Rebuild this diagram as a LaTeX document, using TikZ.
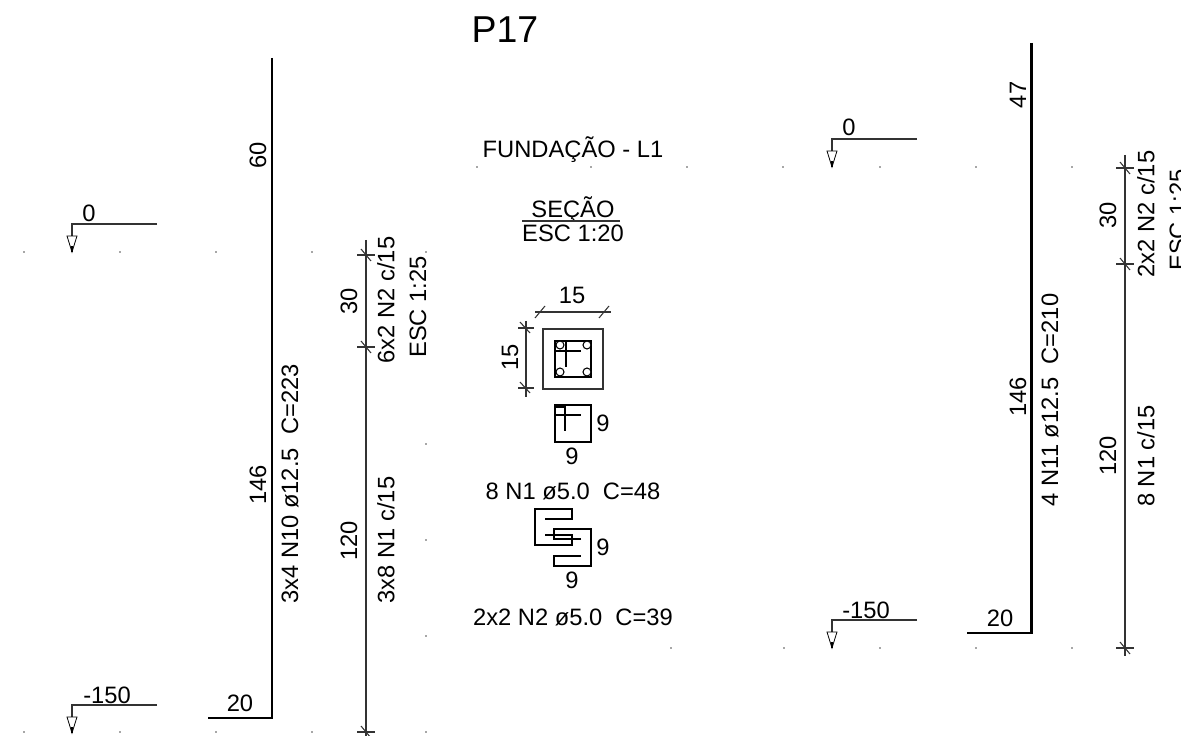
\documentclass[tikz,border=0pt]{standalone}
\usepackage{fontspec}
\setmainfont{Liberation Sans}
\tikzset{
  bar/.style={line width=1.7pt, line cap=butt, line join=miter},
  thinline/.style={line width=0.6pt, black!80},
  txt/.style={inner sep=0, font=\fontsize{13.5}{16}\selectfont},
  vtxt/.style={txt, rotate=90},
  speck/.style={circle, fill=black!70, inner sep=0, minimum size=1pt}
}
\newcommand{\levelmark}[3]{%
  \coordinate (#3a) at (#1,#2);
  \coordinate (#3b) at (#1+85,#2);
  \coordinate (#3c) at (#1,#2+28);
  \draw[thinline] (#3b) -- (#3a) -- (#1,#2+12);
  \draw[line width=0.45pt] (#1-5,#2+12) -- (#1+5,#2+12) -- (#3c) -- cycle;
  \draw[line width=0.9pt] (#3c) -- (#1,#2+22);
}
\newcommand{\dimtick}[3]{%
  \coordinate (#3) at (#1,#2);
  \draw[thinline] (#1-9,#2) -- (#1+9,#2);
  \draw[thinline] (#1-5,#2-6) -- (#1+5,#2+6);
}
\begin{document}
\begin{tikzpicture}[x=0.02cm, y=-0.02cm]
  \useasboundingbox (0,0) rectangle (1181,736);
  % specks
  \foreach \px/\py in {24/252, 120/252, 216/252, 312/252, 426/252, 426/444, 426/540, 426/636,
    24/732, 120/732, 216/732, 312/732, 426/732,
    477/167, 591/167, 687/167, 783/167, 880/167, 976/167, 1072/167,
    671/648, 784/648, 880/648, 976/648, 1072/648}
    \node[speck] at (\px,\py) {};
  % left bar
  \draw[bar] (272,58) -- (272,718) -- (208,718);
  \node[vtxt] (L60) at (258,155) {60};
  \node[vtxt] (L146) at (258,485) {146};
  \node[vtxt] (Lbar) at (290,484) {3x4 N10 ø12.5\ \ C=223};
  \node[txt] (L20) at (240,703) {20};
  % left dimension
  \draw[thinline] (366,240) -- (366,736);
  \dimtick{366}{255}{Lt1}
  \dimtick{366}{347}{Lt2}
  \dimtick{366}{732}{Lt3}
  \node[vtxt] (L30) at (349,301) {30};
  \node[vtxt] (L120) at (349,541) {120};
  \node[vtxt] (LN2) at (386,300) {6x2 N2 c/15};
  \node[vtxt] (LN1) at (386,540) {3x8 N1 c/15};
  \node[vtxt] (Lesc) at (418,307) {ESC 1:25};
  % levels
  \levelmark{72}{224}{La}
  \node[txt] (La0) at (89,213) {0};
  \levelmark{72}{705}{Lb}
  \node[txt] (Lb0) at (107,695) {-150};
  \levelmark{832}{139}{Ra}
  \node[txt] (Ra0) at (849,127) {0};
  \levelmark{832}{620}{Rb}
  \node[txt] (Rb0) at (866,610) {-150};
  % titles
  \node[inner sep=0, font=\fontsize{21.3}{24}\selectfont] (title) at (505,30) {P17};
  \node[txt] (fund) at (573,150) {FUNDAÇÃO - L1};
  \node[txt] (secao) at (573,210) {SEÇÃO};
  \draw[thinline] (522,221) -- (620,221);
  \node[txt] (esc) at (573,233) {ESC 1:20};
  % section
  \draw[thinline] (543,329) rectangle (603,389);
  \draw[bar] (555,341) rectangle (591,377);
  \draw[line width=0.9pt] (566,341) -- (566,367);
  \draw[line width=0.9pt] (555,351) -- (581,351);
  \foreach \px/\py in {560/345, 587/345, 560/372, 587/372}
    \draw[line width=0.6pt, fill=white] (\px,\py) circle (4);
  \draw[thinline] (535,312) -- (611,312);
  \draw[thinline] (535,318) -- (545,306);
  \draw[thinline] (599,318) -- (609,306);
  \node[txt] (w15) at (572,295) {15};
  \draw[thinline] (526,321) -- (526,397);
  \draw[thinline] (518,328) -- (534,328);
  \draw[thinline] (518,388) -- (534,388);
  \draw[thinline] (520,322) -- (530,333);
  \draw[thinline] (520,382) -- (530,393);
  \node[vtxt] (h15) at (510,357) {15};
  % stirrup N1
  \draw[bar] (555,405) rectangle (591,442);
  \draw[line width=0.9pt] (565,405) -- (565,431);
  \draw[line width=0.9pt] (555,415) -- (581,415);
  \fill (555,405) rectangle (565,408);
  \node[txt] (n1h) at (603,423) {9};
  \node[txt] (n1w) at (572,456) {9};
  \node[txt] (n1) at (573,491) {8 N1 ø5.0\ \ C=48};
  % stirrup N2
  \draw[line width=1.3pt] (545,519) -- (572,519) -- (572,509) -- (535,509) -- (535,545)
    -- (572,545) -- (572,535) -- (545,535);
  \draw[line width=1.3pt] (581,539) -- (554,539) -- (554,529) -- (591,529) -- (591,566)
    -- (554,566) -- (554,556) -- (581,556);
  \node[txt] (n2h) at (603,547) {9};
  \node[txt] (n2w) at (572,580) {9};
  \node[txt] (n2) at (573,617) {2x2 N2 ø5.0\ \ C=39};
  % right bar
  \draw[bar] (1031,43) -- (1031,633) -- (967,633);
  \node[vtxt] (R47) at (1018,95) {47};
  \node[vtxt] (R146) at (1018,397) {146};
  \node[vtxt] (Rbar) at (1050,400) {4 N11 ø12.5\ \ C=210};
  \node[txt] (R20) at (1000,618) {20};
  % right dimension
  \draw[thinline] (1125,155) -- (1125,656);
  \dimtick{1125}{168}{Rt1}
  \dimtick{1125}{264}{Rt2}
  \dimtick{1125}{648}{Rt3}
  \node[vtxt] (R30) at (1108,215) {30};
  \node[vtxt] (R120) at (1108,456) {120};
  \node[vtxt] (RN2) at (1146,214) {2x2 N2 c/15};
  \node[vtxt] (RN1) at (1146,456) {8 N1 c/15};
  \node[vtxt] (Resc) at (1178,220) {ESC 1:25};
\end{tikzpicture}
\end{document}
